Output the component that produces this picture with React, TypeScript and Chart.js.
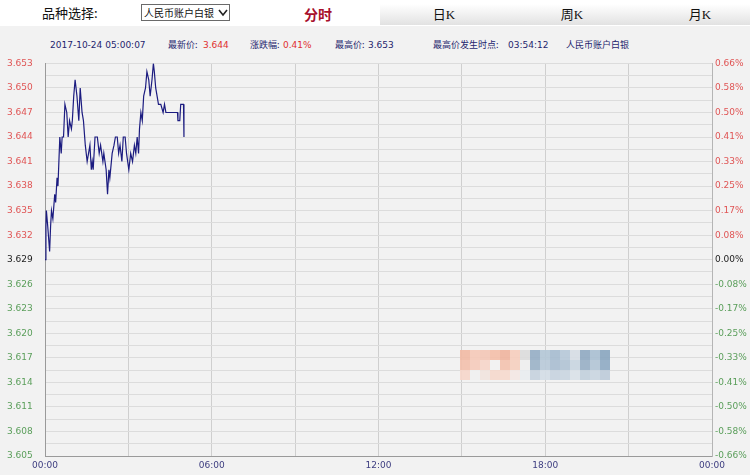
import React, { useEffect, useRef } from 'react';
import { Chart, registerables } from 'chart.js';

Chart.register(...registerables);

// ---- data ----
const minutes = [
  0, 2, 3, 6, 10, 12, 14, 17, 21, 23, 26, 28, 32, 35, 37, 40, 43, 47, 50, 53,
  57, 59, 62, 65, 69, 73, 76, 80, 83, 87, 91, 94, 97, 100, 102, 104, 108, 113, 117, 120,
  125, 127, 132, 135, 138, 140, 145, 149, 152, 156, 159, 162, 166, 169, 173, 176, 181, 185, 189, 193,
  196, 199, 202, 204, 207, 210, 213, 217, 220, 224, 227, 231, 234, 236, 239, 242, 245, 250, 255, 258,
  261, 286, 287, 291, 293, 299, 300,
];
const prices = [
  3.629, 3.633, 3.635, 3.633, 3.630, 3.633, 3.635, 3.634, 3.637, 3.636, 3.639, 3.638, 3.644, 3.642, 3.644, 3.644, 3.648, 3.647, 3.644, 3.646,
  3.645, 3.646, 3.649, 3.651, 3.649, 3.646, 3.650, 3.647, 3.646, 3.643, 3.641, 3.642, 3.643, 3.640, 3.641, 3.640, 3.644, 3.644, 3.642, 3.643,
  3.641, 3.642, 3.640, 3.637, 3.640, 3.639, 3.642, 3.643, 3.644, 3.644, 3.642, 3.643, 3.641, 3.644, 3.644, 3.642, 3.640, 3.642, 3.641, 3.643,
  3.642, 3.644, 3.642, 3.645, 3.647, 3.646, 3.649, 3.650, 3.652, 3.651, 3.649, 3.651, 3.653, 3.652, 3.650, 3.649, 3.648, 3.648, 3.647, 3.648,
  3.647, 3.647, 3.646, 3.646, 3.648, 3.648, 3.644,
];
const prevClose = 3.629;
const leftTickLabels = [
  '3.653', '3.650', '3.647', '3.644', '3.641', '3.638', '3.635', '3.632', '3.629',
  '3.626', '3.623', '3.620', '3.617', '3.614', '3.611', '3.608', '3.605',
];
const rightTickLabels = [
  '0.66%', '0.58%', '0.50%', '0.41%', '0.33%', '0.25%', '0.17%', '0.08%', '0.00%',
  '-0.08%', '-0.17%', '-0.25%', '-0.33%', '-0.41%', '-0.50%', '-0.58%', '-0.66%',
];
const timeTickLabels = ['00:00', '06:00', '12:00', '18:00', '00:00'];
const timeTickMinutes = [0, 360, 720, 1080, 1440];
const gridMinutes = [0, 180, 360, 540, 720, 900, 1080, 1260, 1440];

const infoDate = '2017-10-24 05:00:07';
const infoLatest = '3.644';
const infoChange = '0.41%';
const infoHigh = '3.653';
const infoHighTime = '03:54:12';
const productName = '人民币账户白银';

// decoration colours for the pixelated watermark
const wmRows = [
  ['#f2b9a3', '#f5c9b8', '#f3c7b6', '#f4bfa9', '#f0b49d', '#f6cdbd', '#dcdcdc', '#95adc4', '#b3c6d6', '#a5bbcf', '#b6c8d8', '#d6dde4', '#8fa9c1', '#a9bfd2', '#88a5bf'],
  ['#f3c0ac', '#f5cbbb', '#f6d5c9', '#f2f2f2', '#f3c2ae', '#f5cfbf', '#eeeeee', '#9ab1c7', '#b8c9d8', '#a8bdd0', '#b0c3d4', '#c8d5e0', '#97aec4', '#b1c4d5', '#8eaac3'],
  ['#f6d6ca', '#efefef', '#f1e3de', '#f5d8cc', '#f6d9cd', '#f3e7e3', '#e9ecef', '#c5d2de', '#d3dde6', '#c7d3df', '#c9d5e0', '#d9e1e8', '#c1cfdc', '#c9d5e0', '#bccbd9'],
];

const RED = '#e05555';
const GREEN = '#5a9e5a';
const NAVY = '#1f1f6e';

const labelValues = leftTickLabels.map(Number);
const gridValues: number[] = [];
for (let i = 0; i < labelValues.length; i++) {
  gridValues.push(labelValues[i]);
  if (i < labelValues.length - 1) gridValues.push((labelValues[i] + labelValues[i + 1]) / 2);
}
gridValues.sort((a, b) => a - b);

const findLabelIndex = (v: number) => labelValues.findIndex((l) => Math.abs(l - v) < 1e-7);
const tickColor = (ctx: any) => {
  const v = ctx && ctx.tick ? ctx.tick.value : prevClose;
  if (v > prevClose + 1e-7) return RED;
  if (v < prevClose - 1e-7) return GREEN;
  return '#222';
};

function TimeChart() {
  const ref = useRef<HTMLCanvasElement | null>(null);
  useEffect(() => {
    if (!ref.current) return;
    const chart = new Chart(ref.current, {
      type: 'line',
      data: {
        datasets: [
          {
            data: minutes.map((m, i) => ({ x: m, y: prices[i] })),
            borderColor: '#1c1c80',
            borderWidth: 1.2,
            pointRadius: 0,
            tension: 0,
            fill: false,
          },
        ],
      },
      options: {
        animation: false,
        responsive: false,
        devicePixelRatio: 1,
        layout: { padding: { left: 7, top: 8, right: 0, bottom: 0 } },
        plugins: { legend: { display: false }, tooltip: { enabled: false } },
        scales: {
          x: {
            type: 'linear',
            min: 0,
            max: 1440,
            afterBuildTicks: (s: any) => {
              s.ticks = gridMinutes.map((v) => ({ value: v }));
            },
            afterFit: (s: any) => {
              s.height = 19;
            },
            ticks: {
              autoSkip: false,
              maxRotation: 0,
              padding: 4,
              color: '#3d3d80',
              font: { family: '"DejaVu Sans"', size: 9 },
              callback: (v: any) => {
                const i = timeTickMinutes.indexOf(Number(v));
                return i >= 0 ? timeTickLabels[i] : '';
              },
            },
            grid: { color: '#cfcfcf', drawTicks: false, lineWidth: 1 },
            border: { color: '#9a9a9a' },
          },
          y: {
            type: 'linear',
            position: 'left',
            min: 3.605,
            max: 3.653,
            afterBuildTicks: (s: any) => {
              s.ticks = gridValues.map((v) => ({ value: v }));
            },
            afterFit: (s: any) => {
              s.width = 38;
            },
            ticks: {
              autoSkip: false,
              crossAlign: 'far',
              padding: 0,
              color: tickColor,
              font: { family: '"DejaVu Sans"', size: 9 },
              callback: (v: any) => {
                const i = findLabelIndex(Number(v));
                return i >= 0 ? leftTickLabels[i] : '';
              },
            },
            grid: { color: '#dcdcdc', drawTicks: false, lineWidth: 1 },
            border: { color: '#9a9a9a' },
          },
          y2: {
            type: 'linear',
            position: 'right',
            min: 3.605,
            max: 3.653,
            afterBuildTicks: (s: any) => {
              s.ticks = gridValues.map((v) => ({ value: v }));
            },
            afterFit: (s: any) => {
              s.width = 38;
            },
            ticks: {
              autoSkip: false,
              padding: 3,
              color: tickColor,
              font: { family: '"DejaVu Sans"', size: 9 },
              callback: (v: any) => {
                const i = findLabelIndex(Number(v));
                return i >= 0 ? rightTickLabels[i] : '';
              },
            },
            grid: { display: false, drawTicks: false },
            border: { color: '#b5b5b5' },
          },
        },
      } as any,
    });
    return () => chart.destroy();
  }, []);
  return <canvas ref={ref} width={750} height={420} style={{ display: 'block', width: 750, height: 420 }} />;
}

const cjk = '"Noto Sans CJK SC", "DejaVu Sans", sans-serif';
const num = '"DejaVu Sans", sans-serif';

export default function App() {
  useEffect(() => {
    document.body.style.margin = '0';
  }, []);
  const info = (left: number, text: string, color: string, family: string) => (
    <span
      style={{
        position: 'absolute',
        left,
        top: 39,
        fontSize: 9,
        lineHeight: '12px',
        color,
        fontFamily: family,
        whiteSpace: 'nowrap',
      }}
    >
      {text}
    </span>
  );
  const tab = (center: number, text: string) => (
    <span
      style={{
        position: 'absolute',
        left: center - 30,
        width: 60,
        top: 6,
        textAlign: 'center',
        fontSize: 13,
        lineHeight: '17px',
        color: '#111',
        fontFamily: '"Liberation Serif", "Noto Sans CJK SC", serif',
      }}
    >
      {text}
    </span>
  );
  return (
    <div style={{ position: 'relative', width: 750, height: 475, overflow: 'hidden', background: '#f2f2f2' }}>
      {/* header */}
      <div style={{ position: 'absolute', left: 0, top: 0, width: 750, height: 26, background: '#ffffff' }} />
      <span
        style={{
          position: 'absolute',
          left: 42,
          top: 4,
          fontSize: 13,
          lineHeight: '18px',
          color: '#111',
          fontFamily: cjk,
        }}
      >
        品种选择:
      </span>
      <div
        style={{
          position: 'absolute',
          left: 141,
          top: 4,
          width: 87,
          height: 15,
          border: '1px solid #6a6a6a',
          background: '#fff',
        }}
      >
        <span
          style={{
            position: 'absolute',
            left: 2,
            top: 0,
            fontSize: 10,
            lineHeight: '15px',
            color: '#111',
            fontFamily: cjk,
            whiteSpace: 'nowrap',
          }}
        >
          {productName}
        </span>
        <svg width={10} height={8} style={{ position: 'absolute', left: 76, top: 4 }}>
          <path d="M1 1 L5 6 L9 1" stroke="#222" strokeWidth={1.6} fill="none" />
        </svg>
      </div>
      <div style={{ position: 'absolute', left: 253, top: 4, width: 127, height: 21, background: '#ffffff' }} />
      <span
        style={{
          position: 'absolute',
          left: 288,
          width: 60,
          top: 5,
          textAlign: 'center',
          fontSize: 14,
          fontWeight: 'bold',
          lineHeight: '19px',
          color: '#a8102c',
          fontFamily: cjk,
        }}
      >
        分时
      </span>
      <div
        style={{
          position: 'absolute',
          left: 380,
          top: 4,
          width: 370,
          height: 21,
          background: 'linear-gradient(#ffffff, #e2e2e2)',
        }}
      />
      {tab(444, '日K')}
      {tab(572, '周K')}
      {tab(700, '月K')}

      {/* info row */}
      {info(50, infoDate, NAVY, num)}
      {info(168, '最新价:', NAVY, cjk)}
      {info(203, infoLatest, '#e03030', num)}
      {info(250, '涨跌幅:', NAVY, cjk)}
      {info(283, infoChange, '#e03030', num)}
      {info(335, '最高价:', NAVY, cjk)}
      {info(368, infoHigh, NAVY, num)}
      {info(433, '最高价发生时点:', NAVY, cjk)}
      {info(508, infoHighTime, NAVY, num)}
      {info(566, productName, NAVY, cjk)}

      {/* chart */}
      <div style={{ position: 'absolute', left: 0, top: 55, width: 750, height: 420 }}>
        <TimeChart />
      </div>

      {/* pixelated watermark */}
      <div style={{ position: 'absolute', left: 460, top: 350, pointerEvents: 'none' }}>
        {wmRows.map((row, r) =>
          row.map((c, k) => (
            <div
              key={r + '-' + k}
              style={{ position: 'absolute', left: k * 10, top: r * 10, width: 10, height: 10, background: c, opacity: 0.9 }}
            />
          ))
        )}
      </div>
    </div>
  );
}
